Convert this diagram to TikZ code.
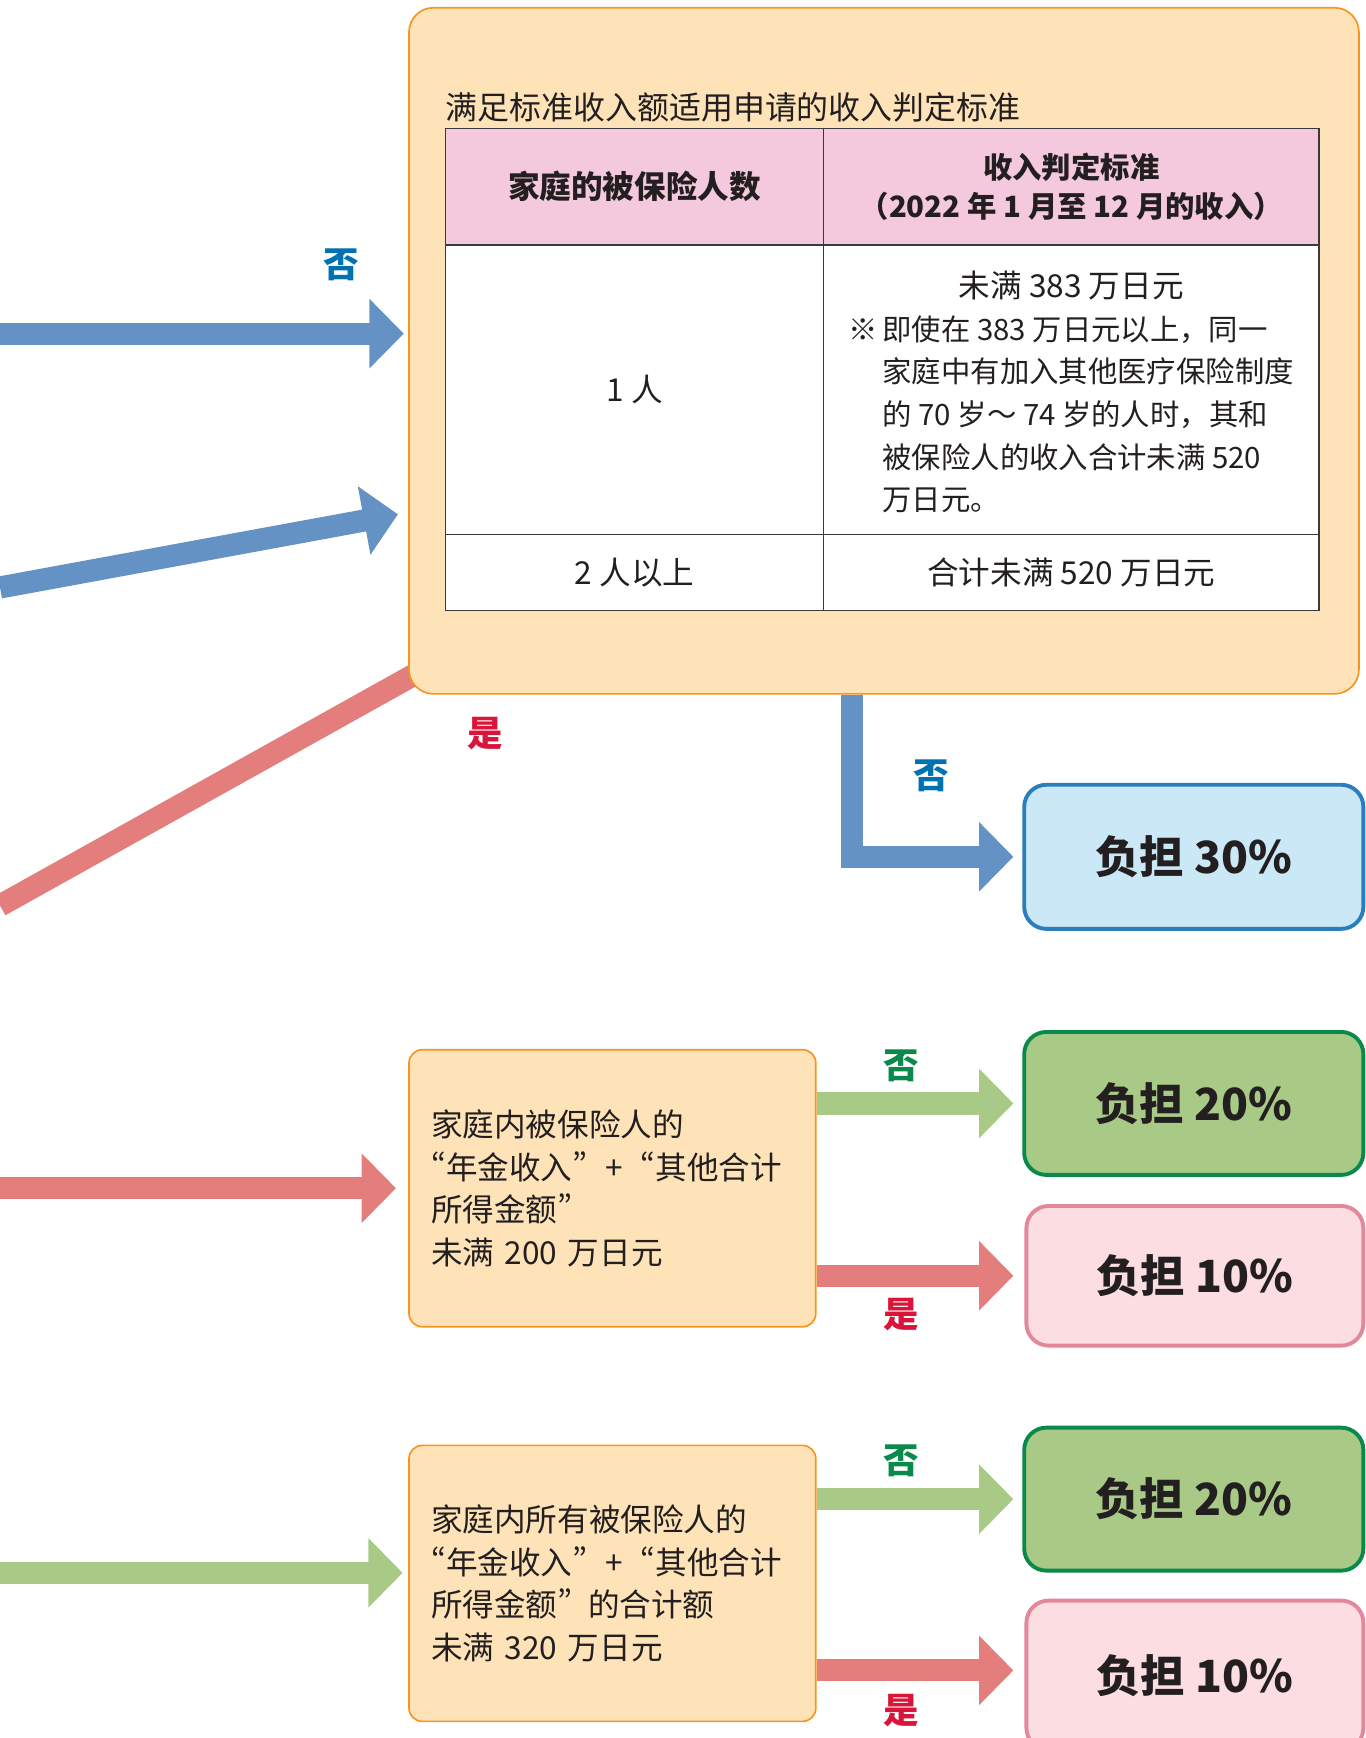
\documentclass[tikz,border=0pt]{standalone}
\usepackage{fontspec}
\setmainfont{Noto Sans CJK SC}
\usetikzlibrary{
        arrows.meta,
        backgrounds,
        positioning
    }
\definecolor{critfill}{HTML}{FEE3B8}
\definecolor{critline}{HTML}{F7941D}
\definecolor{headpink}{HTML}{F4C8DD}
\definecolor{tableline}{HTML}{3A3A3A}
\definecolor{arrowblue}{HTML}{6592C5}
\definecolor{arrowred}{HTML}{E47E7C}
\definecolor{arrowgreen}{HTML}{A9CA86}
\definecolor{noblue}{HTML}{0071B1}
\definecolor{yesred}{HTML}{D9163A}
\definecolor{nogreen}{HTML}{0A8A4A}
\definecolor{resblue}{HTML}{CAE8F6}
\definecolor{resblueline}{HTML}{2A7EBD}
\definecolor{resgreen}{HTML}{A8CA86}
\definecolor{resgreenline}{HTML}{0A8A4A}
\definecolor{respink}{HTML}{FBDDE2}
\definecolor{respinkline}{HTML}{E3879A}
\definecolor{inktext}{HTML}{231F20}
\tikzset{
    fat/.style={line width=20pt,-{Triangle[length=31pt,width=61pt]}},
    critbox/.style={draw=critline,fill=critfill,line width=1.5pt,rounded corners=22pt},
    condbox/.style={draw=critline,fill=critfill,line width=1.5pt,rounded corners=12pt,
        minimum width=367pt,text width=327pt,inner xsep=20pt,align=left,text=inktext,
        font=\fontsize{28.5}{38.5}\selectfont\addfontfeatures{CharacterWidth=Proportional}},
    cell/.style={draw=tableline,fill=white,line width=1.2pt,inner sep=0pt,text=inktext,
        font=\fontsize{28.5}{35}\selectfont},
    resbox/.style={line width=3.5pt,rounded corners=20pt,minimum width=306pt,text=inktext,
        font=\fontsize{40}{48}\selectfont\bfseries},
    lbl/.style={inner sep=0pt,font=\fontsize{32}{36}\selectfont\bfseries}
}

\begin{document}
\begin{tikzpicture}[x=1pt,y=-1pt]
    \useasboundingbox (0,0) rectangle (1232,1568);
    % criteria panel with table
    \node[critbox,minimum width=857pt,minimum height=619pt] (crit) at (797.5,316.5) {};
    \node[anchor=west,inner sep=0pt,text=inktext,font=\fontsize{28.8}{34}\selectfont] (crittitle) at (402,97) {满足标准收入额适用申请的收入判定标准};
    \node[cell,fill=headpink,minimum width=341pt,minimum height=105pt,font=\fontsize{28.5}{35}\selectfont\bfseries] (h1) at (572.5,168.5) {家庭的被保险人数};
    \node[cell,fill=headpink,minimum width=447pt,minimum height=105pt,align=center,font=\fontsize{26.5}{35}\selectfont\bfseries] (h2) at (966.5,168.5) {收入判定标准\\（2022 年 1 月至 12 月的收入）};
    \node[cell,minimum width=341pt,minimum height=261pt] (r1a) at (572.5,351.5) {1 人};
    \node[cell,minimum width=447pt,minimum height=261pt] (r1b) at (966.5,351.5) {};
    \node[inner sep=0pt,text=inktext,font=\fontsize{26.5}{38.5}\selectfont] (r1note) at (966.5,357) {\begin{tabular}{@{}l@{\hspace{4pt}}l@{}}
        \multicolumn{2}{c}{\fontsize{28.5}{38.5}\selectfont 未满 383 万日元}\\
        ※ & 即使在 383 万日元以上，同一\\
          & 家庭中有加入其他医疗保险制度\\
          & 的 70 岁～ 74 岁的人时，其和\\
          & 被保险人的收入合计未满 520\\
          & 万日元。
        \end{tabular}};
    \node[cell,minimum width=341pt,minimum height=69pt] (r2a) at (572.5,516.5) {2 人以上};
    \node[cell,minimum width=447pt,minimum height=69pt] (r2b) at (966.5,516.5) {合计未满 520 万日元};

    % result and condition boxes
    \node[resbox,draw=resblueline,fill=resblue,minimum height=130pt] (res30) at (1077,773) {负担 30\%};
    \node[condbox,minimum height=250pt] (cond2) at (552.5,1072) {家庭内被保险人的\\“年金收入”\hspace{16pt}＋\hspace{16pt}“其他合计\\所得金额”\\未满 200 万日元};
    \node[resbox,draw=resgreenline,fill=resgreen,minimum height=129pt] (res20a) at (1077,995.5) {负担 20\%};
    \node[resbox,draw=respinkline,fill=respink,minimum height=126pt,minimum width=304pt] (res10a) at (1078,1151) {负担 10\%};
    \node[condbox,minimum height=249pt] (cond3) at (552.5,1428.5) {家庭内所有被保险人的\\“年金收入”\hspace{16pt}＋\hspace{16pt}“其他合计\\所得金额”\hspace{14pt}的合计额\\未满 320 万日元};
    \node[resbox,draw=resgreenline,fill=resgreen,minimum height=129pt] (res20b) at (1077,1352.5) {负担 20\%};
    \node[resbox,draw=respinkline,fill=respink,minimum height=135pt,minimum width=304pt] (res10b) at (1078,1511.5) {负担 10\%};

    % labels
    \node[lbl,text=noblue] (no1) at (308,239) {否};
    \node[lbl,text=yesred] (yes1) at (438,662) {是};
    \node[lbl,text=noblue] (no2) at (840,700) {否};
    \node[lbl,text=nogreen] (no3) at (813,962) {否};
    \node[lbl,text=yesred] (yes3) at (813,1186) {是};
    \node[lbl,text=nogreen] (no4) at (813,1318) {否};
    \node[lbl,text=yesred] (yes4) at (813,1543) {是};

    % arrows
    \begin{scope}[on background layer]
        \coordinate (in1) at (0,301);
        \coordinate (in2) at (0,530);
        \coordinate (tip2) at (359,464);
        \coordinate (in3) at (0,817);
        \coordinate (end3) at (400,594);
        \coordinate (in4) at (0,1072);
        \coordinate (in5) at (0,1419);
        \draw[fat,arrowblue,shorten >=4pt] (in1) -- (in1 -| crit.west);
        \draw[fat,arrowblue] (in2) -- (tip2);
        \draw[line width=20pt,arrowred] (in3) -- (end3);
        \draw[fat,arrowblue,shorten >=8pt] ([xshift=-29pt]crit.south) |- (res30.west);
        \draw[fat,arrowred,shorten >=11pt] (in4) -- (in4 -| cond2.west);
        \draw[fat,arrowgreen,shorten >=8pt] (cond2.east |- res20a.west) -- (res20a.west);
        \draw[fat,arrowred,shorten >=10pt] (cond2.east |- res10a.west) -- (res10a.west);
        \draw[fat,arrowgreen,shorten >=5pt] (in5) -- (in5 -| cond3.west);
        \draw[fat,arrowgreen,shorten >=8pt] (cond3.east |- res20b.west) -- (res20b.west);
        \draw[fat,arrowred,shorten >=10pt] (cond3.east |- 0,1507) -- (res10b.west |- 0,1507);
    \end{scope}
\end{tikzpicture}
\end{document}
